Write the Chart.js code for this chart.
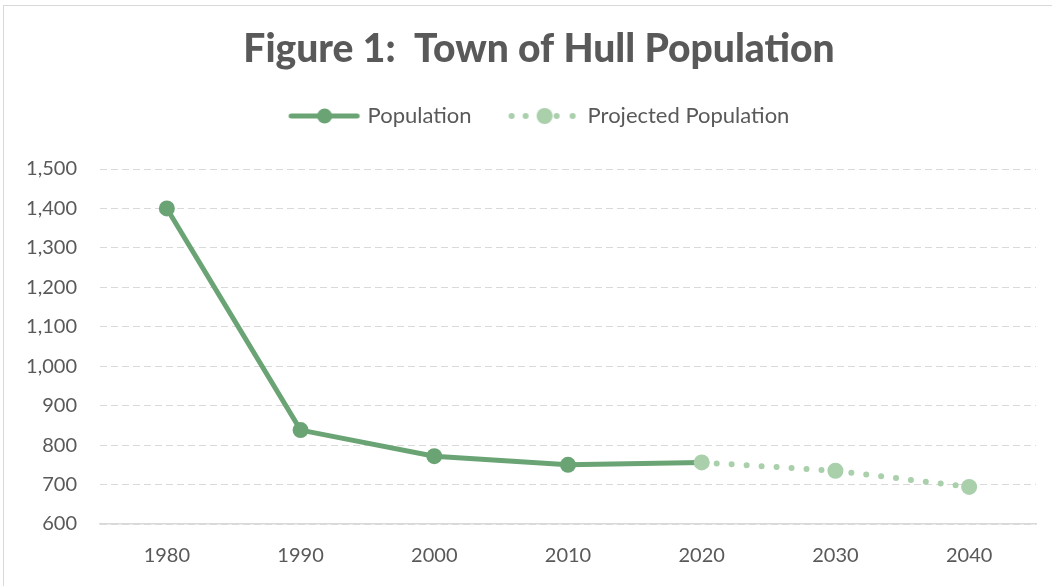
<!DOCTYPE html>
<html>
<head>
<meta charset="utf-8">
<script src="https://cdn.jsdelivr.net/npm/chart.js@4"></script>
<style>
  html, body { margin: 0; padding: 0; background: #ffffff; }
  #frame { position: absolute; left: 3px; top: 5px; width: 1060px; height: 600px; border: 1px solid #d9d9d9; box-sizing: border-box; }
  #wrap { position: absolute; left: 0; top: 0; width: 1052px; height: 586px; }
</style>
</head>
<body>
<div id="frame"></div>
<div id="wrap"><canvas id="c" width="1052" height="586"></canvas></div>
<script>
const titleText = 'Figure 1:  Town of Hull Population';
const years = ['1980', '1990', '2000', '2010', '2020', '2030', '2040'];
const population = [1400, 838, 772, 750, 756, null, null];
const projected = [null, null, null, null, 756, 735, 694];
const popRadii = [8, 8, 8, 8, 0, 0, 0];
const yMin = 600, yMax = 1500, yStep = 100;

const DARK = '#6aa474';
const LIGHT = '#a9cfab';
const TEXT = '#595959';
const FONT = 'Lato, "Open Sans", sans-serif';

function makePopSymbol() {
  const cv = document.createElement('canvas');
  cv.width = 76; cv.height = 20;
  const g = cv.getContext('2d');
  g.strokeStyle = DARK; g.lineWidth = 5; g.lineCap = 'round';
  g.beginPath(); g.moveTo(6.5, 10); g.lineTo(72.5, 10); g.stroke();
  g.fillStyle = DARK; g.beginPath(); g.arc(40, 10, 7.5, 0, Math.PI * 2); g.fill();
  return cv;
}
function makeProjSymbol() {
  const cv = document.createElement('canvas');
  cv.width = 76; cv.height = 20;
  const g = cv.getContext('2d');
  g.fillStyle = LIGHT;
  [7, 21, 52, 68].forEach(x => { g.beginPath(); g.arc(x, 10, 3, 0, Math.PI * 2); g.fill(); });
  g.beginPath(); g.arc(40, 10, 8, 0, Math.PI * 2); g.fill();
  return cv;
}
const popSym = makePopSymbol();
const projSym = makeProjSymbol();

new Chart(document.getElementById('c'), {
  type: 'line',
  data: {
    labels: years,
    datasets: [
      {
        label: 'Population',
        data: population,
        borderColor: DARK,
        backgroundColor: DARK,
        borderWidth: 5,
        pointRadius: popRadii,
        pointHoverRadius: popRadii,
        pointBorderWidth: 0,
        pointBackgroundColor: DARK,
        tension: 0,
        order: 2,
        spanGaps: false
      },
      {
        label: 'Projected Population',
        data: projected,
        borderColor: LIGHT,
        backgroundColor: LIGHT,
        borderWidth: 6,
        borderDash: [0, 15],
        borderCapStyle: 'round',
        pointRadius: 8,
        pointHoverRadius: 8,
        pointBorderWidth: 0,
        pointBackgroundColor: LIGHT,
        tension: 0,
        order: 1
      }
    ]
  },
  options: {
    responsive: false,
    animation: false,
    devicePixelRatio: 1,
    layout: { padding: { left: 42, right: 16, top: 0, bottom: 0 } },
    plugins: {
      tooltip: { enabled: false },
      title: {
        display: true,
        text: titleText,
        color: TEXT,
        font: { family: FONT, size: 39, weight: 900, lineHeight: 1 },
        padding: { top: 30, bottom: -1 }
      },
      legend: {
        display: true,
        position: 'top',
        labels: {
          color: TEXT,
          font: { family: FONT, size: 22 },
          usePointStyle: true,
          pointStyleWidth: 68,
          padding: 37,
          generateLabels: () => [
            { text: 'Population', pointStyle: popSym, fontColor: TEXT, datasetIndex: 0, hidden: false, lineWidth: 0, strokeStyle: 'transparent', fillStyle: DARK },
            { text: 'Projected Population', pointStyle: projSym, fontColor: TEXT, datasetIndex: 1, hidden: false, lineWidth: 0, strokeStyle: 'transparent', fillStyle: LIGHT }
          ]
        }
      }
    },
    scales: {
      x: {
        type: 'category',
        offset: true,
        grid: { display: false, drawTicks: false },
        border: { display: true, color: '#d9d9d9', width: 1.5 },
        ticks: { color: TEXT, font: { family: FONT, size: 20 }, padding: 20, maxRotation: 0 },
        afterFit: s => { s.height = 62; }
      },
      spacer: {
        type: 'category',
        position: 'top',
        display: true,
        grid: { display: false, drawTicks: false },
        border: { display: false },
        ticks: { display: false },
        afterFit: s => { s.height = 32; }
      },
      y: {
        min: yMin,
        max: yMax,
        grid: { color: '#d9d9d9', lineWidth: 1, drawTicks: false },
        border: { display: false, dash: [7, 4] },
        ticks: {
          stepSize: yStep,
          color: TEXT,
          font: { family: FONT, size: 20 },
          padding: 23,
          callback: v => Number(v).toLocaleString('en-US')
        },
        afterFit: s => {
          s.width = 58;
          s._computeLabelArea = () => undefined;
        }
      }
    }
  }
});
</script>
</body>
</html>
